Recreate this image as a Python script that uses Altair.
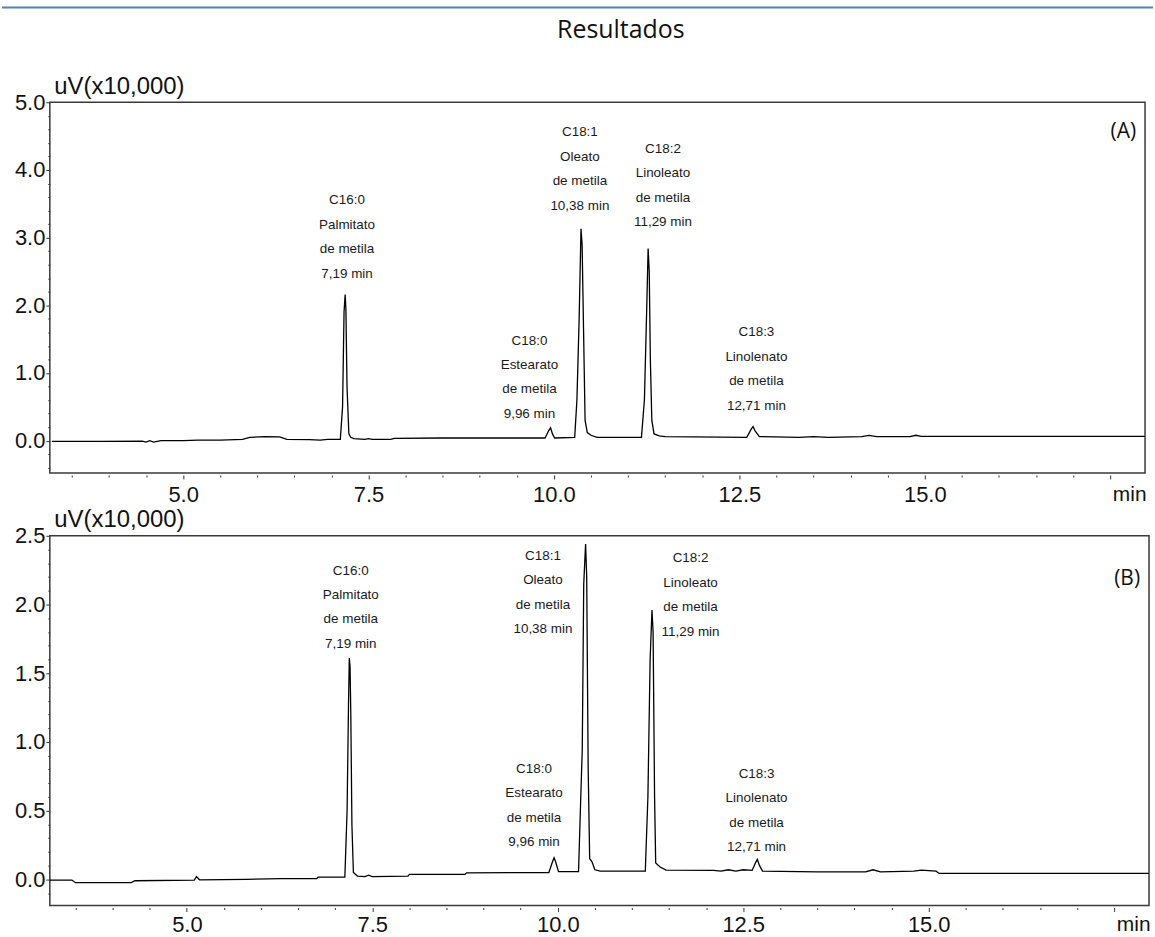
import altair as alt
import pandas as pd

# ---------------- data ----------------
# Panel (A) chromatogram: retention time (min) and signal (uV x 10,000)
time_a = [3.23, 3.9, 4.45, 4.5, 4.55, 4.6, 4.7, 5.0, 5.2, 5.5, 5.8, 5.9, 6.1, 6.3, 6.4,
          6.7, 6.85, 6.95, 7.12, 7.15, 7.17, 7.185, 7.195, 7.21, 7.235, 7.26, 7.3, 7.45,
          7.5, 7.55, 7.8, 7.85, 8.5, 9.5, 9.88, 9.93, 9.955, 9.98, 10.01, 10.28, 10.31,
          10.34, 10.365, 10.38, 10.40, 10.42, 10.45, 10.5, 10.58, 11.18, 11.22, 11.25,
          11.27, 11.285, 11.30, 11.32, 11.35, 11.42, 11.5, 12.6, 12.66, 12.685, 12.71,
          12.77, 13.3, 13.5, 13.7, 14.15, 14.25, 14.35, 14.8, 14.88, 14.95, 17.97]
signal_a = [-0.01, -0.01, -0.005, -0.02, 0.0, -0.02, 0.0, 0.0, 0.01, 0.01, 0.02, 0.05,
            0.06, 0.055, 0.02, 0.015, 0.01, 0.02, 0.02, 0.5, 1.9, 2.16, 1.95, 0.8, 0.1,
            0.05, 0.03, 0.02, 0.03, 0.02, 0.02, 0.035, 0.04, 0.04, 0.04, 0.15, 0.19, 0.1,
            0.04, 0.05, 0.6, 1.8, 3.13, 2.9, 1.6, 0.3, 0.12, 0.08, 0.05, 0.05, 0.6, 1.9,
            2.84, 2.5, 1.2, 0.3, 0.1, 0.07, 0.06, 0.05, 0.17, 0.21, 0.15, 0.06, 0.05,
            0.06, 0.05, 0.06, 0.08, 0.06, 0.06, 0.08, 0.065, 0.065]

# Panel (B) chromatogram
time_b = [3.15, 3.45, 3.5, 4.25, 4.3, 5.1, 5.13, 5.17, 5.8, 6.27, 6.75, 6.77, 7.13, 7.16,
          7.18, 7.19, 7.2, 7.21, 7.225, 7.245, 7.3, 7.4, 7.45, 7.5, 7.98, 8.0, 8.75, 8.77,
          9.88, 9.93, 9.95, 9.97, 10.01, 10.28, 10.31, 10.33, 10.35, 10.375, 10.39, 10.41,
          10.43, 10.46, 10.5, 10.57, 11.18, 11.215, 11.245, 11.27, 11.285, 11.305, 11.32,
          11.38, 11.46, 12.1, 12.2, 12.3, 12.4, 12.5, 12.62, 12.665, 12.69, 12.72, 12.76,
          13.5, 14.15, 14.25, 14.35, 14.8, 14.9, 15.1, 15.14, 17.97]
signal_b = [-0.005, -0.005, -0.024, -0.024, -0.01, -0.005, 0.02, -0.003, 0.0, 0.005, 0.005,
            0.017, 0.017, 0.5, 1.3, 1.61, 1.55, 1.21, 0.4, 0.05, 0.024, 0.02, 0.03, 0.02,
            0.024, 0.036, 0.036, 0.048, 0.05, 0.13, 0.157, 0.13, 0.056, 0.056, 0.6, 0.94,
            2.15, 2.44, 2.2, 0.8, 0.15, 0.13, 0.07, 0.06, 0.06, 0.6, 1.6, 1.96, 1.8, 0.6,
            0.12, 0.09, 0.067, 0.065, 0.06, 0.07, 0.06, 0.07, 0.065, 0.12, 0.145, 0.1, 0.06,
            0.055, 0.055, 0.07, 0.055, 0.06, 0.067, 0.06, 0.043, 0.043]

# Peak annotations (anchor = first text line, in data units)
peak_labels = [
    "C16:0\nPalmitato\nde metila\n7,19 min",
    "C18:0\nEstearato\nde metila\n9,96 min",
    "C18:1\nOleato\nde metila\n10,38 min",
    "C18:2\nLinoleato\nde metila\n11,29 min",
    "C18:3\nLinolenato\nde metila\n12,71 min",
]
label_time_a = [7.21, 9.67, 10.35, 11.47, 12.73]
label_level_a = [3.55, 1.48, 4.555, 4.31, 1.6]
label_time_b = [7.21, 9.68, 9.80, 11.79, 12.68]
label_level_b = [2.246, 0.804, 2.355, 2.336, 0.768]

# Axis tick values
x_ticks = [3.5, 4.0, 4.5, 5.0, 5.5, 6.0, 6.5, 7.0, 7.5, 8.0, 8.5, 9.0, 9.5, 10.0, 10.5,
           11.0, 11.5, 12.0, 12.5, 13.0, 13.5, 14.0, 14.5, 15.0, 15.5, 16.0, 16.5, 17.0, 17.5]
y_ticks_a = [-0.4, -0.2, 0.0, 0.2, 0.4, 0.6, 0.8, 1.0, 1.2, 1.4, 1.6, 1.8, 2.0, 2.2, 2.4,
             2.6, 2.8, 3.0, 3.2, 3.4, 3.6, 3.8, 4.0, 4.2, 4.4, 4.6, 4.8, 5.0]
y_ticks_b = [-0.1, 0.0, 0.1, 0.2, 0.3, 0.4, 0.5, 0.6, 0.7, 0.8, 0.9, 1.0, 1.1, 1.2, 1.3,
             1.4, 1.5, 1.6, 1.7, 1.8, 1.9, 2.0, 2.1, 2.2, 2.3, 2.4, 2.5]

page_title = "Resultados"
y_title = "uV(x10,000)"
x_title = "min"

LABEL_FONT = "Liberation Sans"
DOC_FONT = "Open Sans"
INK = "#111111"


def is_major(step):
    return f"abs(datum.value/{step} - round(datum.value/{step})) < 0.001"


def panel(times, signals, ltimes, llevels, tag, xdom, ydom, yticks, ystep,
          width, height, xlabpad, xtitle_y, top=False):
    df = pd.DataFrame({"t": times, "s": signals})
    lab = pd.DataFrame({"t": ltimes, "s": llevels, "label": peak_labels})
    xs = alt.Scale(domain=xdom, nice=False, zero=False)
    ys = alt.Scale(domain=ydom, nice=False, zero=False)
    xmaj = is_major(2.5)
    ymaj = is_major(ystep)
    xaxis = alt.Axis(
        values=x_ticks, tickCount=200,
        labelExpr=f"({xmaj}) && datum.value < 17 ? format(datum.value, '.1f') : ''",
        tickSize={"condition": {"test": xmaj, "value": 4}, "value": 2},
        offset=2, labelPadding=xlabpad, labelOverlap=False, labelFlush=False,
        title=x_title, titleX=width + 1, titleY=xtitle_y, titleAlign="right",
        titleBaseline="alphabetic", titleFont=LABEL_FONT, titleFontSize=21,
        titleFontWeight="normal", titleColor=INK,
    )
    yaxis = alt.Axis(
        values=yticks, tickCount=200,
        labelExpr=f"({ymaj}) ? format(datum.value, '.1f') : ''",
        tickSize={"condition": {"test": ymaj, "value": 4}, "value": 2},
        labelPadding=1, labelOverlap=False, labelFlush=False,
        title=y_title, titleAngle=0, titleAlign="left", titleBaseline="alphabetic",
        titleX=4, titleY=-9, titleFont=LABEL_FONT, titleFontSize=24,
        titleFontWeight="normal", titleColor=INK,
    )
    line = alt.Chart(df).mark_line(color="black", strokeWidth=1.3, clip=True).encode(
        x=alt.X("t:Q", scale=xs, axis=xaxis),
        y=alt.Y("s:Q", scale=ys, axis=yaxis),
    )
    texts = alt.Chart(lab).mark_text(
        lineBreak="\n", lineHeight=24.5, font=LABEL_FONT, fontSize=13.5,
        color="#1a1a1a", align="center", baseline="middle",
    ).encode(
        x=alt.X("t:Q", scale=xs),
        y=alt.Y("s:Q", scale=ys),
        text="label:N",
    )
    one = pd.DataFrame({"k": [0]})
    tag_mark = alt.Chart(one).mark_text(
        font=DOC_FONT, fontSize=21, color=INK, align="right", baseline="middle",
    ).encode(x=alt.value(width - 9), y=alt.value(30 if top else 43), text=alt.value(tag))
    layers = [line, texts, tag_mark]
    if top:
        rule = alt.Chart(one).mark_rule(color="#4F81BD", strokeWidth=2).encode(
            x=alt.value(-48), x2=alt.value(1107), y=alt.value(-95))
        ttl = alt.Chart(one).mark_text(
            font=DOC_FONT, fontSize=25, color=INK, align="center", baseline="alphabetic",
        ).encode(x=alt.value(573), y=alt.value(-64), text=alt.value(page_title))
        layers += [rule, ttl]
    return alt.layer(*layers).properties(width=width, height=height)


top = panel(time_a, signal_a, label_time_a, label_level_a, "(A)",
            [3.203, 17.97], [-0.477, 5.0], y_ticks_a, 1.0, 1099, 372, 5.5, 26, top=True)
bottom = panel(time_b, signal_b, label_time_b, label_level_b, "(B)",
               [3.153, 17.97], [-0.19, 2.5], y_ticks_b, 0.5, 1103, 371, 3, 23)

chart = alt.vconcat(top, bottom, spacing=0).properties(
    padding={"left": 0, "top": 4, "right": 0, "bottom": 0},
    background="white",
).configure_view(
    stroke="#3a3a3a", strokeWidth=1.5,
).configure_axis(
    domain=False, grid=False, tickColor="#333333", tickWidth=1,
    labelFont=LABEL_FONT, labelFontSize=22, labelColor=INK,
)

chart.save("out.html", embed_options={"renderer": "svg", "actions": False})
